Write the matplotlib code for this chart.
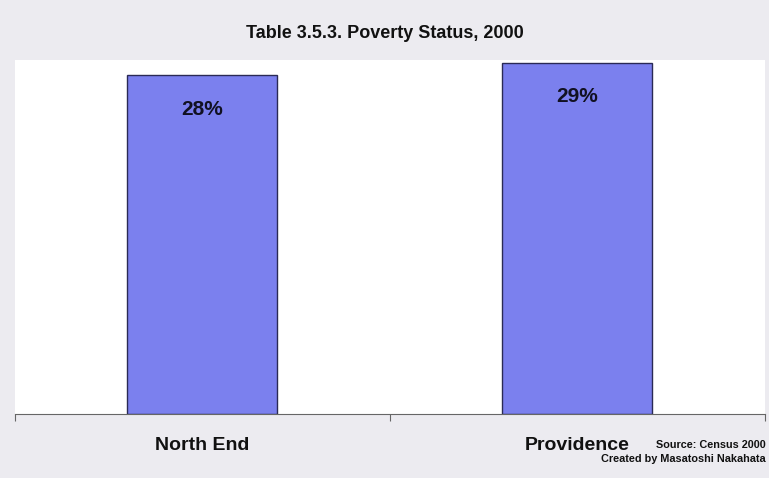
import matplotlib.pyplot as plt

plt.rcParams['font.family'] = ['Liberation Sans', 'DejaVu Sans']

places = ['North End', 'Providence']
poverty = [28, 29]
labels = ['28%', '29%']

fig = plt.figure(figsize=(7.69, 4.78), dpi=100, facecolor='#ecebf0')
ax = fig.add_axes([14.5 / 769, 1 - 414 / 478, 750 / 769, 354 / 478])
ax.set_facecolor('white')

bars = ax.bar(range(len(places)), poverty, width=0.4, color='#7b80ee',
              edgecolor='#2a2a55', linewidth=1.0)
for b, lab in zip(bars, labels):
    ax.text(b.get_x() + b.get_width() / 2, b.get_height() - 2.8, lab,
            ha='center', va='center', fontsize=15, fontweight='bold', color='#111122')

ax.set_xlim(-0.5, 1.5)
ax.set_ylim(0, 29.25)
ax.set_yticks([])
ax.set_xticks([-0.5, 0.5, 1.5])
ax.set_xticklabels([])
ax.tick_params(axis='x', length=5, color='#666666', direction='out')
for s in ['top', 'right', 'left']:
    ax.spines[s].set_visible(False)
ax.spines['bottom'].set_color('#666666')

for i, p in enumerate(places):
    ax.text(i, -2.6, p, ha='center', va='center', fontsize=14, fontweight='bold',
            color='#111111')

fig.text(0.5, 1 - 33 / 478, 'Table 3.5.3. Poverty Status, 2000', ha='center', va='center',
         fontsize=13, fontweight='bold', color='#111111')
fig.text(766 / 769, 1 - 445 / 478, 'Source: Census 2000', ha='right', va='center',
         fontsize=7.8, fontweight='bold', color='#111111')
fig.text(766 / 769, 1 - 459 / 478, 'Created by Masatoshi Nakahata', ha='right', va='center',
         fontsize=7.8, fontweight='bold', color='#111111')

fig.savefig('out.png', dpi=100, facecolor=fig.get_facecolor())
